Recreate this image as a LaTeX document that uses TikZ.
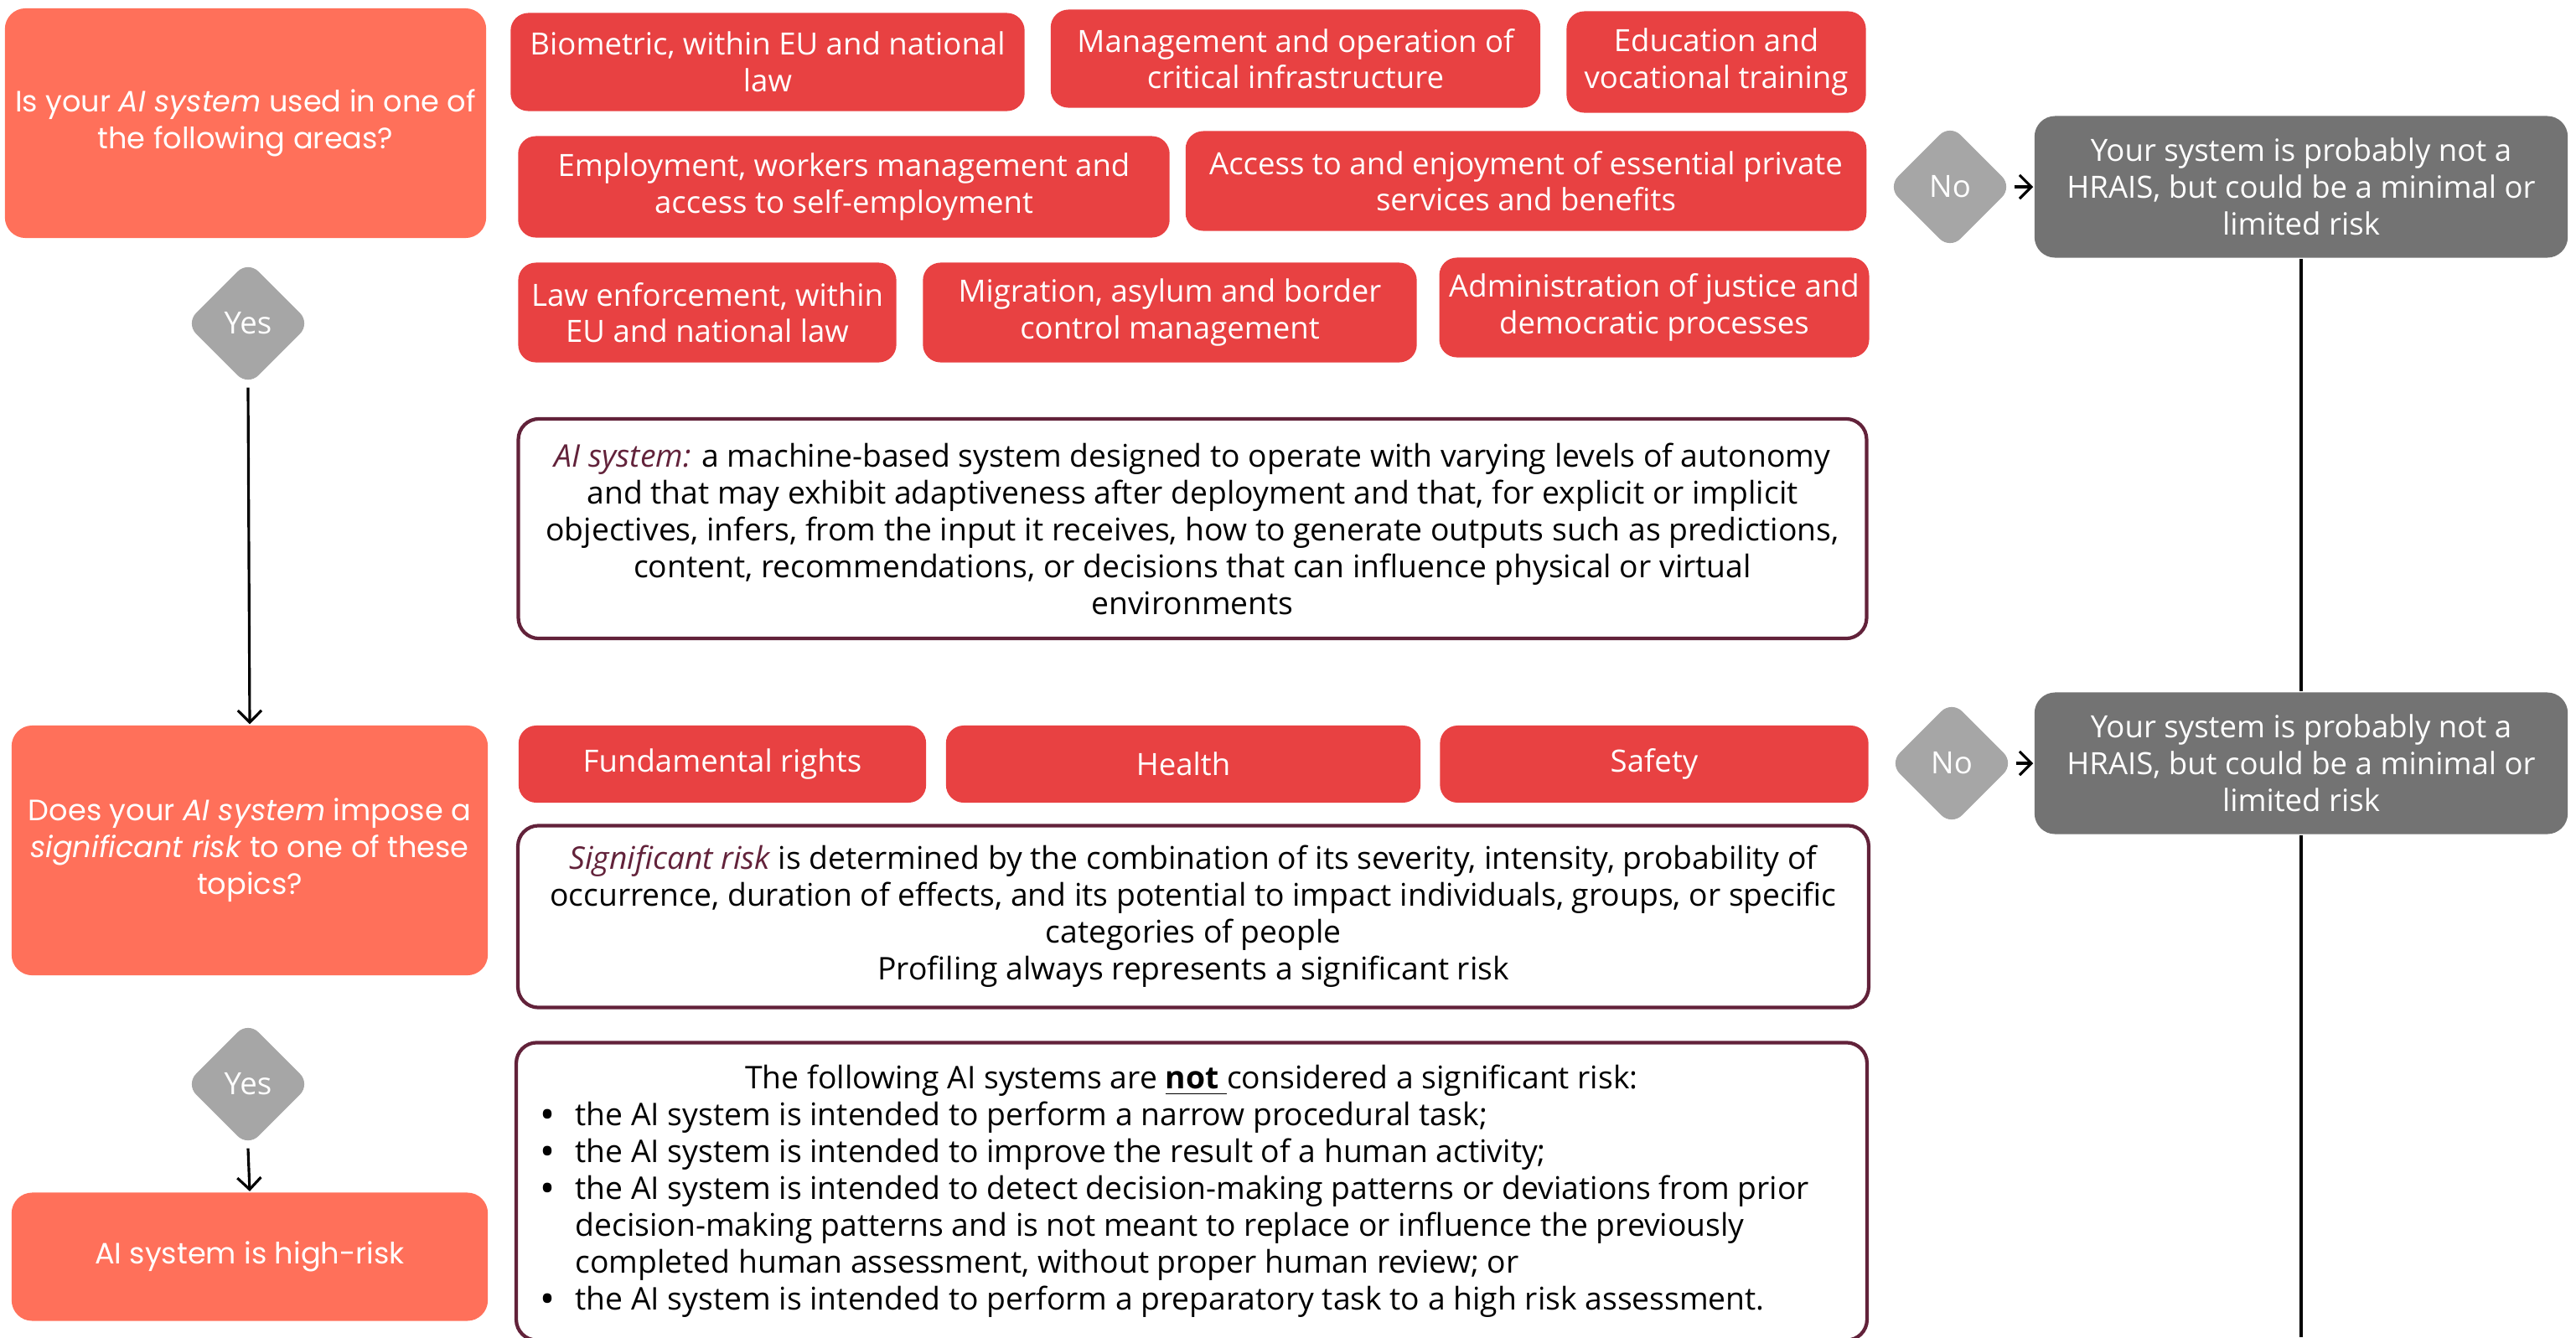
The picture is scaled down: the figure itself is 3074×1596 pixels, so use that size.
\documentclass[tikz,border=0pt]{standalone}
\usepackage{fontspec}
\setmainfont{Open Sans}
\newfontfamily\popfont{Poppins}
\usetikzlibrary{shapes.geometric,arrows.meta}
\definecolor{coral}{HTML}{FF705A}
\definecolor{areared}{HTML}{E84142}
\definecolor{decgray}{HTML}{A6A6A6}
\definecolor{resgray}{HTML}{737373}
\definecolor{wine}{HTML}{62223A}
\newcommand{\bulletitem}{\par\hangindent=0.4cm\hangafter=1\noindent\makebox[0.4cm][l]{\textbf{\textbullet}}}
\begin{document}
\begin{tikzpicture}[x=0.01cm,y=-0.01cm,line width=0.9pt,>={Straight Barb[length=4pt,width=8pt]},
	qbox/.style={fill=coral,rounded corners=7pt,text=white,align=center,font=\popfont\fontsize{10}{12.5}\selectfont},
	area/.style={fill=areared,rounded corners=6pt,text=white,align=center,font=\fontsize{10.4}{12.4}\selectfont},
	note/.style={draw=wine,line width=1.2pt,rounded corners=7pt,align=center,font=\fontsize{10.6}{12.5}\selectfont},
	dec/.style={diamond,fill=decgray,rounded corners=5pt,minimum size=1.5cm,inner sep=0pt,text=white,font=\fontsize{10.4}{12}\selectfont},
	res/.style={fill=resgray,rounded corners=7pt,text=white,align=center,minimum width=6.36cm,minimum height=1.69cm,font=\fontsize{10.4}{12.5}\selectfont}]
	\useasboundingbox (0,0) rectangle (3074,1596);
	% questions on the left
	\node[qbox,minimum width=5.74cm,minimum height=2.74cm] (q1) at (293,147) {Is your \textit{AI system} used in one of\\the following areas?};
	\node[qbox,minimum width=5.68cm,minimum height=2.98cm] (q2) at (298,1015) {Does your \textit{AI system} impose a\\\textit{significant risk} to one of these\\topics?};
	\node[qbox,minimum width=5.68cm,minimum height=1.53cm] (high) at (298,1500) {AI system is high-risk};
	\node[dec] (yes1) at (296,386) {Yes};
	\node[dec] (yes2) at (296,1294) {Yes};
	% areas
	\node[area,minimum width=6.13cm,minimum height=1.17cm] (bio) at (916,74) {Biometric, within EU and national\\law};
	\node[area,minimum width=5.84cm,minimum height=1.17cm] (infra) at (1546,70) {Management and operation of\\critical infrastructure};
	\node[area,minimum width=3.57cm,minimum height=1.21cm] (edu) at (2048,74) {Education and\\vocational training};
	\node[area,minimum width=7.77cm,minimum height=1.21cm] (empl) at (1007,223) {Employment, workers management and\\access to self-employment};
	\node[area,minimum width=8.12cm,minimum height=1.19cm] (serv) at (1821,216) {Access to and enjoyment of essential private\\services and benefits};
	\node[area,minimum width=4.51cm,minimum height=1.19cm] (law) at (844,373) {Law enforcement, within\\EU and national law};
	\node[area,minimum width=5.89cm,minimum height=1.19cm] (migr) at (1396,373) {Migration, asylum and border\\control management};
	\node[area,minimum width=5.11cm,minimum height=1.19cm] (just) at (1974,367) {Administration of justice and\\democratic processes};
	\node[note,minimum width=16.08cm,minimum height=2.62cm] (defai) at (1423,631) {{\color{wine}\itshape AI system:} a machine-based system designed to operate with varying levels of autonomy\\and that may exhibit adaptiveness after deployment and that, for explicit or implicit\\objectives, infers, from the input it receives, how to generate outputs such as predictions,\\content, recommendations, or decisions that can influence physical or virtual\\environments};
	% topics
	\node[area,minimum width=4.86cm,minimum height=0.92cm] (rights) at (862,912) {Fundamental rights};
	\node[area,minimum width=5.66cm,minimum height=0.92cm] (health) at (1412,912) {Health};
	\node[area,minimum width=5.11cm,minimum height=0.92cm] (safety) at (1974,912) {Safety};
	\node[note,minimum width=16.11cm,minimum height=2.17cm] (defrisk) at (1424,1094) {{\color{wine}\itshape Significant risk} is determined by the combination of its severity, intensity, probability of\\occurrence, duration of effects, and its potential to impact individuals, groups, or specific\\categories of people\\Profiling always represents a significant risk};
	\node[note,minimum width=16.11cm,minimum height=3.55cm,text width=15.5cm,align=none] (exempt) at (1422,1422) {{\centering The following AI systems are \underline{\textbf{not }}considered a significant risk:\par}
		\raggedright
		\bulletitem the AI system is intended to perform a narrow procedural task;
		\bulletitem the AI system is intended to improve the result of a human activity;
		\bulletitem the AI system is intended to detect decision-making patterns or deviations from prior\newline decision-making patterns and is not meant to replace or influence the previously\newline completed human assessment, without proper human review; or
		\bulletitem the AI system is intended to perform a preparatory task to a high risk assessment.\par};
	% right column
	\node[dec] (no1) at (2327,223) {No};
	\node[dec] (no2) at (2329,911) {No};
	\node[res] (out1) at (2746,223) {Your system is probably not a\\HRAIS, but could be a minimal or\\limited risk};
	\node[res] (out2) at (2746,911) {Your system is probably not a\\HRAIS, but could be a minimal or\\limited risk};
	\coordinate (bottom) at (2746,1596);
	\draw[->] (yes1.south)--(q2.north);
	\draw[->] (yes2.south)--(high.north);
	\draw[->] (no1.east)--(out1.west);
	\draw[->] (no2.east)--(out2.west);
	\draw (out1.south)--(out2.north) (out2.south)--(bottom);
\end{tikzpicture}
\end{document}
